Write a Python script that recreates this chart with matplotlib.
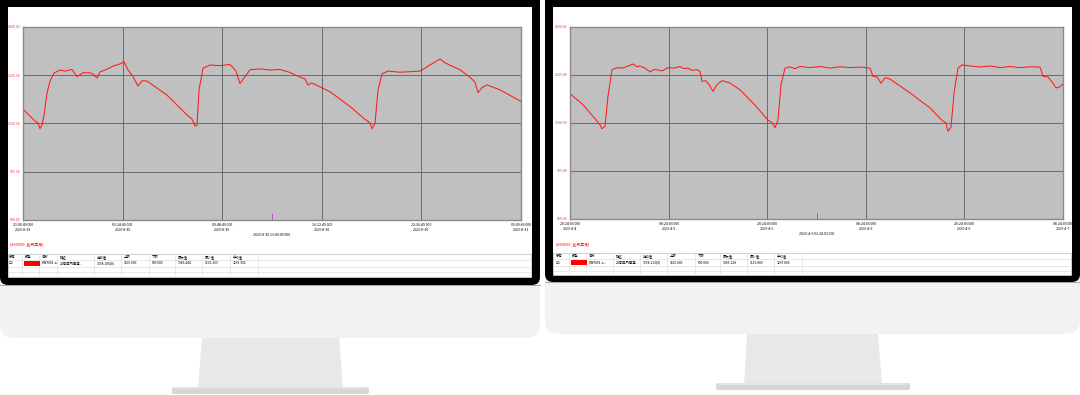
import numpy as np
import matplotlib
matplotlib.use("Agg")
import matplotlib.pyplot as plt
from matplotlib.patches import FancyBboxPatch, Polygon, Rectangle

plt.rcParams["font.family"] = ["Noto Sans CJK SC", "DejaVu Sans"]

W, H = 1080, 395

Y_MIN, Y_MAX = 800, 1500
Y_TICKS = [800, 975, 1150, 1325, 1500]

# left screen: hours since 2023-8-29 21:00:49
LEFT_HOURS = [0.0, 0.77, 0.96, 1.09, 1.22, 1.35, 1.54, 1.73, 1.99, 2.38, 2.70, 3.15,
              3.47, 3.86, 4.31, 4.50, 4.76, 4.95, 5.40, 5.78, 6.23, 6.49, 6.75, 7.07,
              7.39, 7.65, 7.97, 9.25, 10.54, 10.86, 11.05, 11.18, 11.31, 11.57, 12.02,
              12.66, 13.30, 13.69, 13.94, 14.27, 14.59, 15.23, 15.87, 16.51, 17.16,
              17.80, 18.12, 18.31, 18.57, 19.73, 21.01, 21.98, 22.30, 22.43, 22.62,
              22.81, 23.07, 23.45, 24.22, 24.87, 25.51, 26.15, 26.80, 27.12, 27.57,
              28.08, 28.72, 29.04, 29.24, 29.49, 29.81, 30.65, 31.29, 32.0]
LEFT_VALUES = [1202, 1159, 1152, 1131, 1145, 1180, 1260, 1302, 1333, 1344, 1340, 1346,
               1320, 1334, 1334, 1329, 1315, 1337, 1347, 1358, 1366, 1374, 1344, 1320,
               1286, 1305, 1304, 1253, 1181, 1166, 1141, 1144, 1271, 1351, 1362,
               1360, 1364, 1340, 1295, 1320, 1345, 1348, 1344, 1346, 1335,
               1318, 1312, 1290, 1297, 1265, 1212, 1165, 1152, 1131, 1150,
               1270, 1330, 1340, 1336, 1338, 1340, 1362, 1384, 1370, 1358,
               1345, 1318, 1300, 1262, 1280, 1290, 1272, 1252, 1230]
LEFT_XTICKS = [0, 6.4, 12.8, 19.2, 25.6, 32.0]
LEFT_XLABELS = ["21:00:49 000\n2023-8-29", "03:24:49 000\n2023-8-30",
                "09:48:49 000\n2023-8-30", "16:12:49 000\n2023-8-30",
                "22:36:49 000\n2023-8-30", "05:00:49 000\n2023-8-31"]
LEFT_CURSOR_HOUR = 16.0
LEFT_CURSOR_LABEL = "2023-8-30 13:00:49 000"

# right screen: hours since 2023-4-4 20:24:03
RIGHT_HOURS = [0.0, 1.58, 3.29, 3.65, 3.89, 4.26, 4.62, 5.11, 5.72, 6.33, 6.94, 7.67,
               8.15, 8.52, 9.13, 9.74, 10.22, 10.59, 11.20, 11.93, 12.66, 13.39, 13.87,
               14.36, 14.85, 15.46, 15.82, 16.06, 16.55, 17.04, 17.40, 17.89, 18.50,
               19.47, 20.69, 22.52, 24.10, 24.58, 24.95, 25.31, 25.68, 26.17, 26.77,
               27.38, 27.99, 29.21, 30.43, 31.64, 32.86, 34.08, 35.29, 36.51, 36.88,
               37.36, 37.85, 38.34, 38.95, 41.38, 43.81, 45.27, 45.76, 46.00, 46.37,
               46.74, 47.22, 47.71, 48.68, 49.90, 51.12, 52.33, 53.55, 54.77, 55.98,
               57.20, 57.57, 58.17, 58.66, 59.15, 59.51, 60.0]
RIGHT_VALUES = [1257, 1217, 1157, 1144, 1129, 1138, 1247, 1344, 1352, 1350, 1356, 1365,
                1355, 1358, 1350, 1336, 1345, 1344, 1340, 1352, 1350, 1356, 1348,
                1350, 1342, 1344, 1338, 1302, 1304, 1285, 1265, 1290, 1304,
                1296, 1271, 1215, 1160, 1152, 1133, 1160, 1290, 1350, 1355,
                1348, 1356, 1352, 1356, 1350, 1355, 1352, 1354, 1350, 1320,
                1318, 1295, 1315, 1310, 1260, 1205, 1160, 1150, 1120, 1135,
                1260, 1350, 1362, 1358, 1354, 1358, 1352, 1356, 1352, 1355,
                1354, 1320, 1318, 1300, 1278, 1280, 1292]
RIGHT_XTICKS = [0, 12, 24, 36, 48, 60]
RIGHT_XLABELS = ["20:24:03 000\n2023-4-4", "08:24:03 000\n2023-4-5",
                 "20:24:03 000\n2023-4-5", "08:24:03 000\n2023-4-6",
                 "20:24:03 000\n2023-4-6", "08:24:03 000\n2023-4-7"]
RIGHT_CURSOR_HOUR = 30.0
RIGHT_CURSOR_LABEL = "2023-4-6 02:24:03 000"

TABLE_HEADERS = ["序号", "颜色", "名称", "描述", "当前值", "上限", "下限", "最大值", "最小值", "平均值"]
LEFT_ROW = ["☑1", "", "HWY001-a...", "24号回风巷道...", "1338.106(0)", "1500.000",
            "800.000", "1386.444", "1131.259", "1293.902"]
RIGHT_ROW = ["☑1", "", "HWY001-a...", "24号回风巷道...", "1354.113(0)", "1500.000",
             "800.000", "1385.128", "1119.889", "1297.866"]
NOTE_TEXT = "(860500: 此段正常)"


def draw_monitor(bg, x0, x1, screen_bottom, chin_bottom, stand, foot):
    # chin
    bg.add_patch(FancyBboxPatch((x0, screen_bottom - 30), x1 - x0, chin_bottom - screen_bottom + 30,
                                boxstyle="round,pad=0,rounding_size=14",
                                fc="#f2f2f2", ec="none", zorder=1))
    # black bezel
    bg.add_patch(FancyBboxPatch((x0, -10), x1 - x0, screen_bottom + 10,
                                boxstyle="round,pad=0,rounding_size=8",
                                fc="#000000", ec="none", zorder=2))
    bg.plot([x0, x1], [screen_bottom, screen_bottom], color="#9a9a9a", lw=0.6, zorder=3)
    # white screen
    bg.add_patch(Rectangle((x0 + 8, 7), x1 - x0 - 16, screen_bottom - 15,
                           fc="white", ec="none", zorder=3))
    # stand + foot
    sx0, sx1, sx2, sx3, sy1 = stand
    bg.add_patch(Polygon([(sx0, chin_bottom), (sx1, chin_bottom), (sx3, sy1), (sx2, sy1)],
                         closed=True, fc="#e8e8e8", ec="none", zorder=1))
    fx0, fx1, fy0, fy1 = foot
    bg.add_patch(FancyBboxPatch((fx0, fy0), fx1 - fx0, fy1 - fy0,
                                boxstyle="round,pad=0,rounding_size=2",
                                fc="#d6d6d6", ec="none", zorder=1))
    bg.add_patch(Rectangle((fx0 + 2, fy0), fx1 - fx0 - 4, 1.5, fc="#e2e2e2", ec="none", zorder=1))


def draw_table(bg, x0, x1, top, bottom, col_x, row):
    lines = "#d8d8d8"
    bg.add_patch(Rectangle((x0, top), x1 - x0, bottom - top, fc="white",
                           ec="#c8c8c8", lw=0.6, zorder=4))
    for yy in [top + 6, top + 13, top + 18]:
        bg.plot([x0, x1], [yy, yy], color=lines, lw=0.4, zorder=5)
    for cx in col_x[1:]:
        bg.plot([cx - 3, cx - 3], [top, bottom], color=lines, lw=0.4, zorder=5)
    bg.plot([col_x[-1] + 25, col_x[-1] + 25], [top, bottom], color=lines, lw=0.4, zorder=5)
    for cx, head, val in zip(col_x, TABLE_HEADERS, row):
        bg.text(cx, top + 3, head, fontsize=2.4, ha="left", va="center", zorder=6)
        if val:
            bg.text(cx, top + 9.5, val, fontsize=2.4, ha="left", va="center", zorder=6)
    bg.add_patch(Rectangle((col_x[1] - 1, top + 6.8), 16, 5.5, fc="#ff0000", ec="none", zorder=6))


def draw_chart(fig, px0, px1, ptop, pbot, hours, values, xticks, xlabels, cursor_h, cursor_lbl):
    ax = fig.add_axes([px0 / W, 1 - pbot / H, (px1 - px0) / W, (pbot - ptop) / H], zorder=10)
    ax.set_facecolor("#c0c0c0")
    ax.plot(hours, values, color="#ff1a1a", lw=0.75)
    ax.set_xlim(xticks[0], xticks[-1])
    ax.set_ylim(Y_MIN, Y_MAX)
    ax.set_yticks(Y_TICKS)
    ax.set_yticklabels([f"{v:.2f}" for v in Y_TICKS], color="#ff3030", fontsize=2.6)
    ax.set_xticks(xticks)
    ax.set_xticklabels(xlabels, fontsize=2.6, linespacing=1.3)
    ax.tick_params(length=0, pad=2)
    ax.grid(True, color="#6a6a6a", lw=0.7)
    ax.set_axisbelow(True)
    for s in ax.spines.values():
        s.set_color("#8a8a8a")
        s.set_linewidth(1.0)
    ax.axvline(cursor_h, ymin=0, ymax=0.03, color="#d040d0", lw=0.7)
    ax.text(cursor_h, -0.08, cursor_lbl, transform=ax.get_xaxis_transform(),
            fontsize=2.6, ha="center", va="center")
    return ax


fig = plt.figure(figsize=(W / 100, H / 100), dpi=100)
bg = fig.add_axes([0, 0, 1, 1], zorder=0)
bg.set_xlim(0, W)
bg.set_ylim(H, 0)
bg.axis("off")

draw_monitor(bg, 0, 540, 285, 338, (202, 339, 198, 343, 388), (172, 369, 387, 394))
draw_monitor(bg, 545, 1080, 282, 334, (747, 878, 744, 882, 384), (716, 910, 383, 390))

draw_table(bg, 8, 531, 254, 277,
           [9, 25, 42, 60, 97, 124, 152, 178, 205, 233], LEFT_ROW)
draw_table(bg, 553, 1071, 253, 275,
           [556, 572, 589, 616, 643, 670, 698, 723, 750, 777], RIGHT_ROW)

bg.text(10, 245, NOTE_TEXT, fontsize=2.8, color="#ff0000", style="italic",
        ha="left", va="center", zorder=6)
bg.text(556, 245, NOTE_TEXT, fontsize=2.8, color="#ff0000", style="italic",
        ha="left", va="center", zorder=6)

draw_chart(fig, 23, 521, 27, 220, LEFT_HOURS, LEFT_VALUES, LEFT_XTICKS, LEFT_XLABELS,
           LEFT_CURSOR_HOUR, LEFT_CURSOR_LABEL)
draw_chart(fig, 570, 1063, 27, 219, RIGHT_HOURS, RIGHT_VALUES, RIGHT_XTICKS, RIGHT_XLABELS,
           RIGHT_CURSOR_HOUR, RIGHT_CURSOR_LABEL)

fig.savefig("out.png", dpi=100)
